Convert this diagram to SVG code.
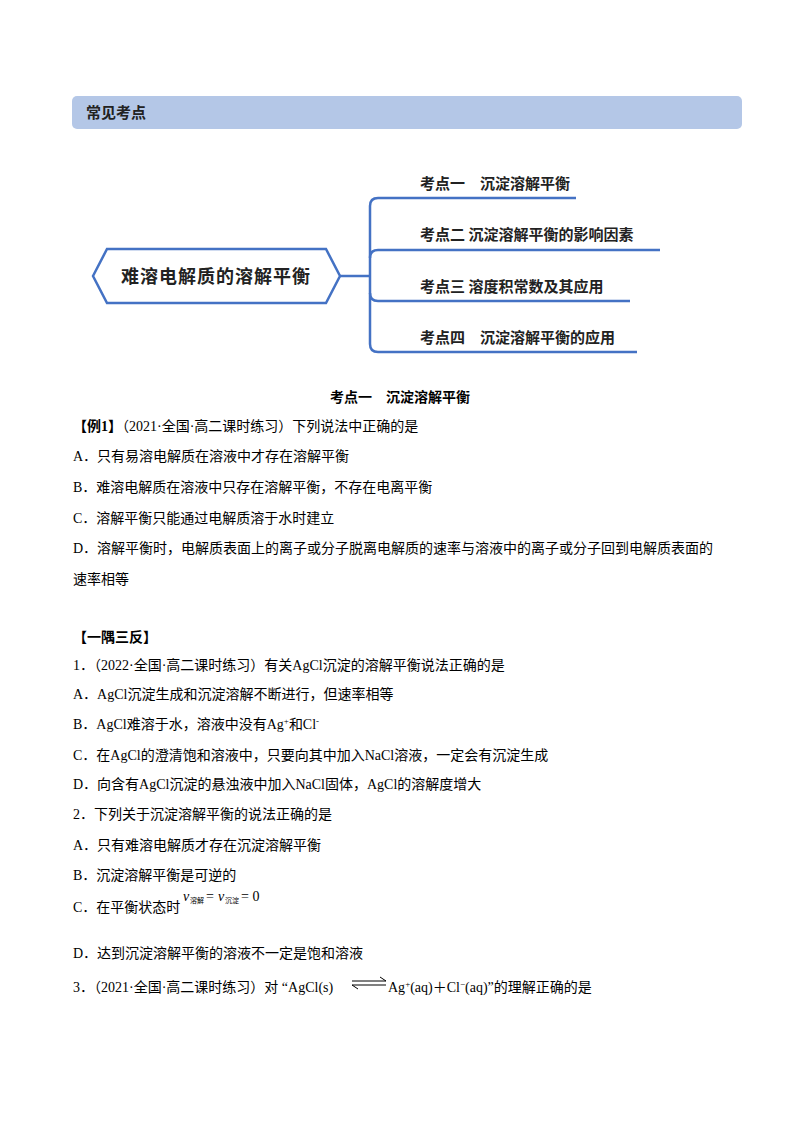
<svg xmlns="http://www.w3.org/2000/svg" width="800" height="1132" viewBox="0 0 800 1132">
<style>
text{font-family:"Liberation Serif","Noto Sans CJK SC",serif;font-size:14px;fill:#000}
.b{font-weight:bold}
.k{font-family:"Noto Sans CJK SC",sans-serif;font-weight:bold;font-size:15px;fill:#222}
.s{font-size:7px}
.ln{fill:none;stroke:#4472c4;stroke-width:2.5}
</style>
<rect width="800" height="1132" fill="#fff"/>
<g id="header"><rect x="72" y="96" width="670" height="33" rx="5" fill="#b4c7e7"/><text x="86" y="118" class="k">常见考点</text></g>
<g id="connectors">
<path class="ln" d="M340 276 H370"/>
<path class="ln" d="M576 198 H378 Q370 198 370 206 V344 Q370 352 378 352 H637"/>
<path class="ln" d="M370 258 Q370 250 378 250 H660"/>
<path class="ln" d="M370 293 Q370 301 378 301 H630"/>
</g>
<g id="root"><polygon points="93,276 107,249 326,249 340,276 326,303 107,303" fill="#fff" stroke="#4472c4" stroke-width="2.5"/><text x="216" y="283" text-anchor="middle" class="k" style="font-size:18px;letter-spacing:1px">难溶电解质的溶解平衡</text></g>
<g id="n1"><text x="420" y="189" class="k">考点一　沉淀溶解平衡</text></g>
<g id="n2"><text x="420" y="240" class="k">考点二 沉淀溶解平衡的影响因素</text></g>
<g id="n3"><text x="420" y="292" class="k">考点三 溶度积常数及其应用</text></g>
<g id="n4"><text x="420" y="343" class="k">考点四　沉淀溶解平衡的应用</text></g>
<text x="400" y="402" text-anchor="middle" class="b">考点一　沉淀溶解平衡</text>
<text x="73" y="431"><tspan class="b">【例1】</tspan>（2021·全国·高二课时练习）下列说法中正确的是</text>
<text x="73" y="461">A．只有易溶电解质在溶液中才存在溶解平衡</text>
<text x="73" y="492">B．难溶电解质在溶液中只存在溶解平衡，不存在电离平衡</text>
<text x="73" y="523">C．溶解平衡只能通过电解质溶于水时建立</text>
<text x="73" y="553">D．溶解平衡时，电解质表面上的离子或分子脱离电解质的速率与溶液中的离子或分子回到电解质表面的</text>
<text x="73" y="584">速率相等</text>
<text x="73" y="642" class="b">【一隅三反】</text>
<text x="73" y="670">1．（2022·全国·高二课时练习）有关AgCl沉淀的溶解平衡说法正确的是</text>
<text x="73" y="699">A．AgCl沉淀生成和沉淀溶解不断进行，但速率相等</text>
<text x="73" y="729">B．AgCl难溶于水，溶液中没有Ag<tspan dy="-5" font-size="9">+</tspan><tspan dy="5">和Cl</tspan><tspan dy="-5" font-size="9">-</tspan></text>
<text x="73" y="760">C．在AgCl的澄清饱和溶液中，只要向其中加入NaCl溶液，一定会有沉淀生成</text>
<text x="73" y="789">D．向含有AgCl沉淀的悬浊液中加入NaCl固体，AgCl的溶解度增大</text>
<text x="73" y="819">2．下列关于沉淀溶解平衡的说法正确的是</text>
<text x="73" y="850">A．只有难溶电解质才存在沉淀溶解平衡</text>
<text x="73" y="880">B．沉淀溶解平衡是可逆的</text>
<text x="73" y="912">C．在平衡状态时</text>
<text x="183" y="901" font-style="italic">v</text><text x="190" y="903" class="s">溶解</text><text x="206" y="901">=</text><text x="218" y="901" font-style="italic">v</text><text x="225" y="903" class="s">沉淀</text><text x="241" y="901">= 0</text>
<text x="73" y="958">D．达到沉淀溶解平衡的溶液不一定是饱和溶液</text>
<text x="73" y="992">3．（2021·全国·高二课时练习）对 “AgCl(s)</text>
<g stroke="#000" stroke-width="1" fill="none"><path d="M352 981 H386 L380 977"/><path d="M386 985 H352 L358 989"/></g>
<text x="388" y="992">Ag<tspan dy="-5" font-size="9">+</tspan><tspan dy="5">(aq)＋Cl</tspan><tspan dy="-5" font-size="9">−</tspan><tspan dy="5">(aq)”的理解正确的是</tspan></text>
</svg>
